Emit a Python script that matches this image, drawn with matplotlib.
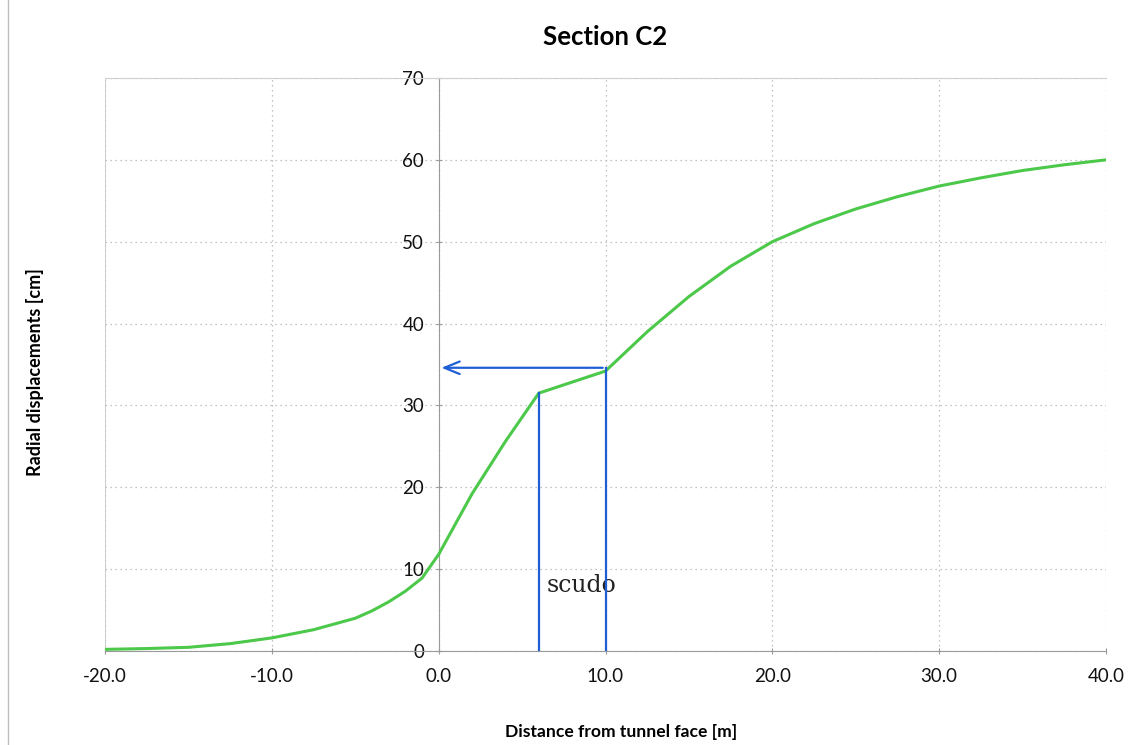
import matplotlib
matplotlib.use("Agg")
import matplotlib.pyplot as plt
from matplotlib.ticker import FormatStrFormatter

# distance from tunnel face [m] and radial displacement [cm]
dist = [-20, -17.5, -15, -12.5, -10, -7.5, -5, -4, -3, -2, -1, 0,
        2, 4, 6, 10, 12.5, 15, 17.5, 20, 22.5, 25, 27.5, 30, 32.5, 35, 37.5, 40]
disp = [0.2, 0.3, 0.45, 0.9, 1.6, 2.6, 4.0, 4.9, 6.0, 7.3, 8.9, 11.8,
        19.2, 25.6, 31.5, 34.2, 39.0, 43.3, 47.0, 50.0, 52.2, 54.0, 55.5, 56.8,
        57.8, 58.7, 59.4, 60.0]

# "scudo" marker lines
scudo_start = 6
scudo_end = 10
scudo_y_start = 31.5
scudo_y_end = 34.6

xticks = [-20, -10, 0, 10, 20, 30, 40]
yticks = [0, 10, 20, 30, 40, 50, 60, 70]

font = ["Lato", "DejaVu Sans"]
plt.rcParams["font.family"] = font

fig = plt.figure(figsize=(11.3, 7.45), dpi=100)
ax = fig.add_axes([105 / 1130, 1 - 651 / 745, 1001 / 1130, 573 / 745])

ax.plot(dist, disp, color="#4cc84a", lw=2.2, zorder=3)

blue = "#1f5fd6"
ax.plot([scudo_start, scudo_start], [0, scudo_y_start], color=blue, lw=1.6, zorder=4)
ax.plot([scudo_end, scudo_end], [0, scudo_y_end], color=blue, lw=1.6, zorder=4)
ax.annotate("", xy=(0, scudo_y_end), xytext=(scudo_end, scudo_y_end),
            arrowprops=dict(arrowstyle="->,head_length=1.1,head_width=0.45",
                            color=blue, lw=1.6), zorder=4)
ax.text(6.5, 8, "scudo", family="DejaVu Serif", fontsize=17, color="#222222",
        va="center", ha="left")

ax.set_xlim(-20, 40)
ax.set_ylim(0, 70)
ax.set_xticks(xticks)
ax.set_yticks(yticks)
ax.xaxis.set_major_formatter(FormatStrFormatter("%.1f"))

ax.grid(True, color="#b0b0b0", linestyle=(0, (1, 3)), lw=0.9)
ax.spines["left"].set_position(("data", 0))
ax.spines["left"].set_color("#9a9a9a")
ax.spines["bottom"].set_color("#9a9a9a")
ax.spines["top"].set_color("#d0d0d0")
ax.spines["right"].set_visible(False)
ax.axvline(-20, color="#c8c8c8", lw=1.2)

ax.tick_params(axis="both", direction="inout", length=5, color="#9a9a9a",
               labelsize=13.5, labelcolor="#111111")
ax.tick_params(axis="x", pad=10)
ax.tick_params(axis="y", pad=8)

ax.set_title("Section C2", fontsize=18.5, fontweight="bold", pad=24)
fig.text(0.55, 1 - 732 / 745, "Distance from tunnel face [m]", ha="center",
         va="center", fontsize=12.6, fontweight="bold")
fig.text(35 / 1130, 1 - 372 / 745, "Radial displacements [cm]", ha="center",
         va="center", rotation=90, fontsize=13, fontweight="bold")

# scan edge line
fig.add_artist(plt.Line2D([8 / 1130, 8 / 1130], [0, 1], color="#bdbdbd", lw=1))

fig.savefig("out.png", dpi=100)
